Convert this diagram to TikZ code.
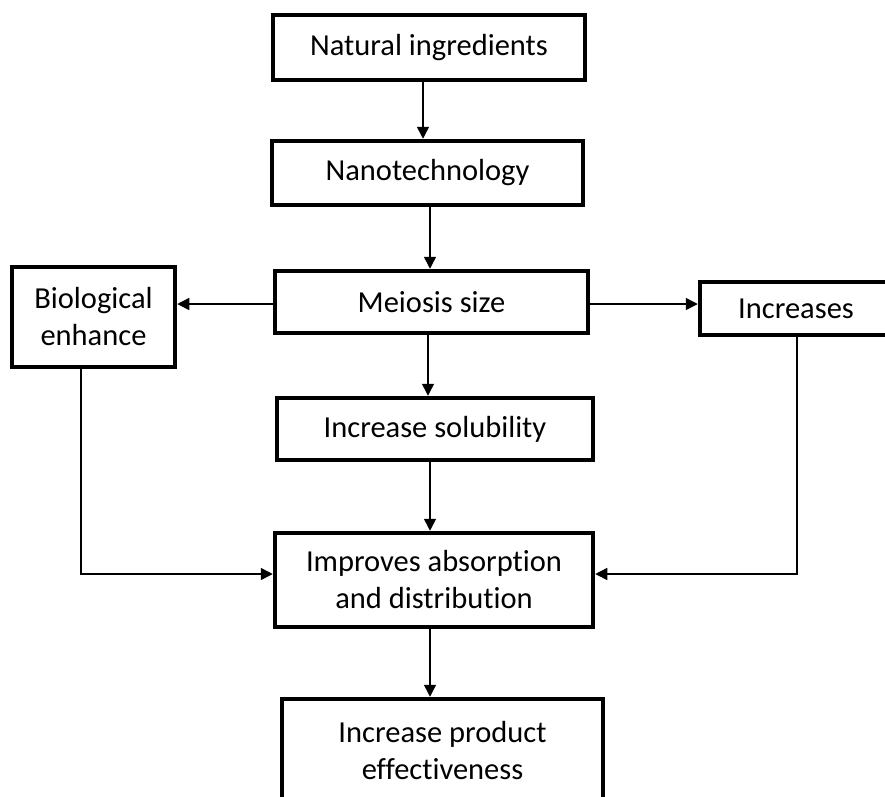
\documentclass[tikz,border=0pt]{standalone}
\usepackage{fontspec}
\setmainfont{Carlito}[Ligatures=NoCommon,RawFeature={-liga}]
\usetikzlibrary{arrows.meta}
\begin{document}
\begin{tikzpicture}[x=1pt,y=-1pt,
  box/.style={draw=black,line width=4.5pt,fill=white,inner sep=0pt,align=center,
    font=\fontsize{30.5}{37}\selectfont},
  conn/.style={line width=1.5pt,-{Triangle[length=12pt,width=12pt]}}]
\useasboundingbox (0,0) rectangle (885,796);
\clip (0,0) rectangle (885,796);
\node[box,minimum width=312pt,minimum height=65pt] (n1) at (429,47.5) {Natural ingredients};
\node[box,minimum width=311pt,minimum height=64pt] (n2) at (427.5,173) {Nanotechnology};
\node[box,minimum width=313pt,minimum height=62pt] (n3) at (431.5,302) {Meiosis size};
\node[box,minimum width=163pt,minimum height=100pt] (bio) at (93.5,317) {Biological\\enhance};
\node[box,minimum width=192pt,minimum height=53pt] (inc) at (796,308.5) {Increases};
\node[box,minimum width=316pt,minimum height=62pt] (sol) at (435,429) {Increase solubility};
\node[box,minimum width=318pt,minimum height=94pt] (imp) at (434,580) {Improves absorption\\and distribution};
\node[box,minimum width=321pt,minimum height=104pt] (prod) at (442.5,751) {Increase product\\effectiveness};
\coordinate (lc) at (81,574);
\coordinate (rc) at (797,574);
\draw[conn] (n1.south -| 423,0) -- (n2.north -| 423,0);
\draw[conn] (n2.south -| 430,0) -- (n3.north -| 430,0);
\draw[conn] (n3.west |- 0,304) -- (bio.east |- 0,304);
\draw[conn] (n3.east |- 0,304) -- (inc.west |- 0,304);
\draw[conn] (n3.south -| 428,0) -- (sol.north -| 428,0);
\draw[conn] (sol.south -| 430,0) -- (imp.north -| 430,0);
\draw[conn] (imp.south -| 430,0) -- (prod.north -| 430,0);
\draw[conn] (bio.south -| lc) -- (lc) -- (imp.west |- lc);
\draw[conn] (inc.south -| rc) -- (rc) -- (imp.east |- rc);
\end{tikzpicture}
\end{document}
